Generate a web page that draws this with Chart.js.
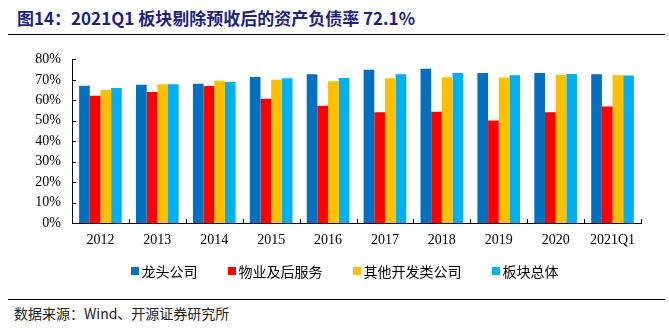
<!DOCTYPE html>
<html>
<head>
<meta charset="utf-8">
<script src="https://cdn.jsdelivr.net/npm/chart.js@4/dist/chart.umd.min.js"></script>
<style>
  html, body { margin: 0; padding: 0; background: #fff; }
  body { width: 669px; height: 332px; position: relative; overflow: hidden; }
  #title { position: absolute; left: 17px; top: 6px; font-family: "Noto Sans CJK SC", sans-serif; font-weight: bold; font-size: 17px; color: #1b1f88; white-space: nowrap; line-height: 24px; }
  .rule { position: absolute; left: 8px; width: 657px; height: 0; border-top: 1.5px solid #000; }
  #wrap { position: absolute; left: 0; top: 40px; width: 669px; height: 225px; }
  #legend { position: absolute; top: 262px; left: 0; width: 669px; display: flex; justify-content: center; padding-left: 20px; box-sizing: border-box; font-family: "Noto Sans CJK SC", sans-serif; font-size: 14px; color: #000; }
  .item { display: flex; align-items: center; margin: 0 15px; line-height: 18px; }
  .sw { width: 8px; height: 8px; margin-right: 3px; }
  #source { position: absolute; left: 14px; top: 303px; font-family: "Noto Sans CJK SC", sans-serif; font-size: 14px; color: #222; white-space: nowrap; line-height: 20px; }
</style>
</head>
<body>
<div id="title">图14：2021Q1 板块剔除预收后的资产负债率 72.1%</div>
<div class="rule" style="top:34px"></div>
<div id="wrap"><canvas id="c"></canvas></div>
<div id="legend"></div>
<div class="rule" style="top:299px"></div>
<div id="source">数据来源：Wind、开源证券研究所</div>
<script>
// Years on the x axis
const categories = ['2012', '2013', '2014', '2015', '2016', '2017', '2018', '2019', '2020', '2021Q1'];

// Debt ratio after removing advance receipts (%)
const leaders    = [67.1, 67.6, 68.1, 71.4, 72.7, 74.9, 75.4, 73.3, 73.3, 72.7];
const property   = [62.2, 64.1, 67.0, 60.8, 57.3, 54.1, 54.4, 50.1, 54.1, 57.0];
const others     = [65.2, 67.9, 69.5, 70.1, 69.3, 70.8, 71.3, 71.1, 72.4, 72.2];
const sector     = [66.0, 67.8, 68.9, 70.8, 70.9, 72.7, 73.3, 72.2, 72.8, 72.1];

const seriesNames  = ['龙头公司', '物业及后服务', '其他开发类公司', '板块总体'];
const seriesValues = [leaders, property, others, sector];
const seriesColors = ['#0070C0', '#FF0000', '#FFC000', '#00B0F0'];

// Y axis ticks: 0% .. 80%
const yMax = 80;
const yStep = 10;

const datasets = seriesNames.map((name, i) => ({
  label: name,
  data: seriesValues[i],
  backgroundColor: seriesColors[i],
  borderWidth: 0,
  categoryPercentage: 0.75,
  barPercentage: 1.0
}));

// Small tick marks drawn on the inner side of both axes
const innerTicks = {
  id: 'innerTicks',
  afterDatasetsDraw(chart) {
    const { ctx, chartArea, scales } = chart;
    ctx.save();
    ctx.strokeStyle = '#000';
    ctx.lineWidth = 1;
    ctx.beginPath();
    scales.y.ticks.forEach(t => {
      const y = Math.round(scales.y.getPixelForValue(t.value)) + 0.5;
      ctx.moveTo(chartArea.left, y);
      ctx.lineTo(chartArea.left + 4, y);
    });
    for (let i = 0; i <= categories.length; i++) {
      const x = Math.round(scales.x.getPixelForValue(i - 0.5)) + 0.5;
      ctx.moveTo(x, chartArea.bottom);
      ctx.lineTo(x, chartArea.bottom - 4);
    }
    ctx.stroke();
    ctx.restore();
  }
};

const serif = '"Liberation Serif", "Times New Roman", serif';

new Chart(document.getElementById('c'), {
  type: 'bar',
  data: { labels: categories, datasets },
  options: {
    responsive: true,
    maintainAspectRatio: false,
    animation: false,
    layout: { padding: { left: 10, right: 28, top: 15, bottom: 12 } },
    plugins: {
      legend: { display: false },
      tooltip: { enabled: false }
    },
    scales: {
      x: {
        grid: { display: false, drawTicks: false },
        border: { display: true, color: '#000', width: 1 },
        ticks: { color: '#000', font: { family: serif, size: 14 }, padding: 9, maxRotation: 0 },
        afterFit(s) { s.height = 30; }
      },
      y: {
        min: 0,
        max: yMax,
        grid: { display: false, drawTicks: false },
        border: { display: true, color: '#000', width: 1 },
        ticks: {
          stepSize: yStep,
          color: '#000',
          font: { family: serif, size: 14 },
          padding: 11,
          callback: v => v + '%'
        },
        afterFit(s) { s.width = 62; }
      }
    }
  },
  plugins: [innerTicks]
});

// Legend row built from the same series definitions
const legend = document.getElementById('legend');
seriesNames.forEach((name, i) => {
  const item = document.createElement('div');
  item.className = 'item';
  const sw = document.createElement('span');
  sw.className = 'sw';
  sw.style.background = seriesColors[i];
  const txt = document.createElement('span');
  txt.textContent = name;
  item.appendChild(sw);
  item.appendChild(txt);
  legend.appendChild(item);
});
</script>
</body>
</html>
